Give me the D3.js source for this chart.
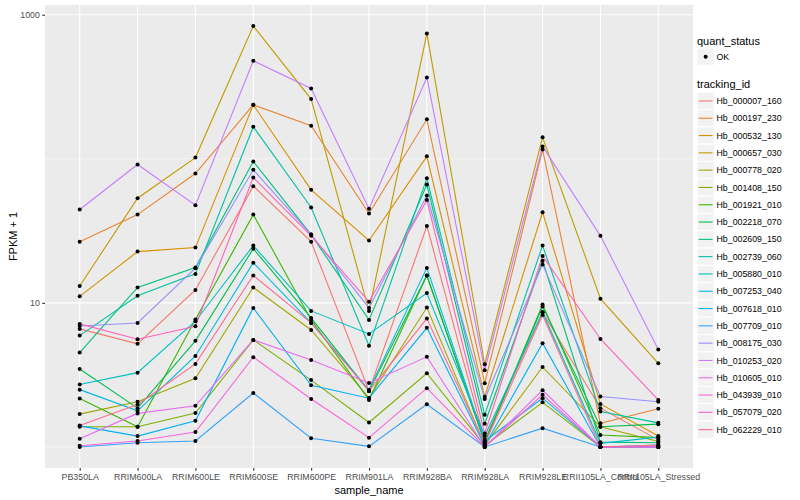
<!DOCTYPE html>
<html>
<head>
<meta charset="utf-8">
<script src="https://cdn.jsdelivr.net/npm/d3@7"></script>
<style>
body { margin:0; background:#ffffff; }
text { font-family:"Liberation Sans", Arial, Helvetica, sans-serif; }
</style>
</head>
<body>
<svg id="chart"></svg>
<script>

//sample names on the x axis
var samples = ["PB350LA","RRIM600LA","RRIM600LE","RRIM600SE","RRIM600PE","RRIM901LA",
               "RRIM928BA","RRIM928LA","RRIM928LE","RRII105LA_Control","RRII105LA_Stressed"];

//tracking ids (legend order)
var trackingIds = ["Hb_000007_160","Hb_000197_230","Hb_000532_130","Hb_000657_030","Hb_000778_020",
                   "Hb_001408_150","Hb_001921_010","Hb_002218_070","Hb_002609_150","Hb_002739_060",
                   "Hb_005880_010","Hb_007253_040","Hb_007618_010","Hb_007709_010","Hb_008175_030",
                   "Hb_010253_020","Hb_010605_010","Hb_043939_010","Hb_057079_020","Hb_062229_010"];

//ggplot default hue colours
var lineColors = ["#F8766D","#EA8331","#D89000","#C09B00","#A3A500","#7CAE00","#39B600","#00BB4E",
                  "#00BF7D","#00C1A3","#00BFC4","#00BAE0","#00B0F6","#35A2FF","#9590FF","#C77CFF",
                  "#E76BF3","#FA62DB","#FF62BC","#FF6C91"];

//FPKM + 1 values, one array per gene, in sample order
var hb000007_160 = [6.6, 5.2, 12.3, 64.6, 26.6, 2.45, 34.2, 1.12, 8.6, 1.86, 1.12];
var hb000197_230 = [26.6, 41.0, 79.1, 237, 170, 41.7, 188, 2.77, 116, 1.46, 1.84];
var hb000532_130 = [11.1, 22.7, 24.2, 237, 60.9, 27.1, 104, 2.23, 42.6, 1.99, 1.19];
var hb000657_030 = [13.1, 53.3, 102, 835, 260, 8.80, 742, 3.75, 141, 10.7, 3.81];
var hb000778_020 = [1.69, 2.06, 3.0, 12.8, 6.49, 2.19, 9.28, 1.03, 3.59, 1.38, 1.09];
var hb001408_150 = [1.38, 1.38, 1.72, 5.53, 2.91, 1.48, 3.25, 1.02, 2.04, 1.0, 1.0];
var hb001921_010 = [2.17, 1.38, 7.66, 41.0, 7.62, 2.12, 15.5, 1.07, 9.73, 1.21, 1.16];
var hb002218_070 = [3.48, 1.86, 5.45, 23.8, 7.87, 2.44, 15.5, 1.08, 9.43, 1.38, 1.44];
var hb002609_150 = [4.52, 12.8, 17.6, 95.8, 29.8, 7.62, 66.3, 1.45, 19.6, 1.08, 1.07];
var hb002739_060 = [5.93, 11.2, 15.9, 167, 45.9, 5.05, 73.4, 1.67, 25.0, 1.76, 1.47];
var hb005880_010 = [2.71, 3.28, 7.46, 25.0, 8.80, 6.09, 11.7, 1.19, 8.62, 1.06, 1.17];
var hb007253_040 = [2.50, 1.78, 4.28, 19.0, 7.26, 2.49, 17.5, 1.10, 2.18, 1.0, 1.03];
var hb007618_010 = [1.40, 1.19, 1.52, 9.23, 2.68, 2.18, 6.71, 1.02, 5.25, 1.0, 1.0];
var hb007709_010 = [1.0, 1.07, 1.10, 2.37, 1.15, 1.01, 1.98, 1.0, 1.35, 1.0, 1.0];
var hb008175_030 = [6.92, 7.26, 17.4, 83.9, 29.8, 9.23, 55.6, 2.15, 18.5, 2.24, 2.06];
var hb010253_020 = [44.5, 91.3, 47.7, 479, 308, 45.0, 367, 3.41, 122, 29.2, 4.74];
var hb010605_010 = [1.14, 1.71, 1.93, 5.53, 4.02, 2.78, 4.22, 1.0, 2.48, 1.0, 1.0];
var hb043939_010 = [1.02, 1.10, 1.27, 4.20, 2.15, 1.16, 2.56, 1.0, 2.30, 1.0, 1.0];
var hb057079_020 = [7.15, 5.60, 6.89, 74.2, 29.2, 10.2, 51.7, 1.24, 21.2, 5.62, 2.12];
var hb062229_010 = [1.41, 1.97, 3.77, 15.5, 7.26, 2.45, 7.78, 1.05, 8.25, 1.0, 1.03];

var allValues = [hb000007_160, hb000197_230, hb000532_130, hb000657_030, hb000778_020,
                 hb001408_150, hb001921_010, hb002218_070, hb002609_150, hb002739_060,
                 hb005880_010, hb007253_040, hb007618_010, hb007709_010, hb008175_030,
                 hb010253_020, hb010605_010, hb043939_010, hb057079_020, hb062229_010];

var yTicks = [10, 1000];
var yMinor = [1, 100];

//the size of the screen
var screen = {width:800, height:500};

//where the grey panel sits
var margins = {top:5, bottom:32, left:45, right:107};

var graph =
{
    width:screen.width-margins.left-margins.right,
    height:screen.height-margins.top-margins.bottom
};

//build the series table
var series = trackingIds.map(function(id, i)
{
    return {
        id:id,
        color:lineColors[i],
        points:allValues[i].map(function(v, j){ return {sample:samples[j], value:v}; })
    };
});

var svg = d3.select("svg#chart")
    .attr("width", screen.width)
    .attr("height", screen.height)
    .style("background-color", "white");

//scales
var xScale = d3.scalePoint()
    .domain(samples)
    .range([0, graph.width])
    .padding(0.6);

var logs = [];
allValues.forEach(function(arr){ arr.forEach(function(v){ logs.push(Math.log10(v)); }); });
var logMin = d3.min(logs), logMax = d3.max(logs);
var pad = (logMax - logMin) * 0.05;

var yScale = d3.scaleLog()
    .domain([Math.pow(10, logMin - pad), Math.pow(10, logMax + pad)])
    .range([graph.height, 0]);

var g = svg.append("g")
    .attr("transform", "translate(" + margins.left + "," + margins.top + ")");

//panel background
g.append("rect")
    .attr("width", graph.width)
    .attr("height", graph.height)
    .attr("fill", "#EBEBEB");

//minor grid
g.selectAll(".minor")
    .data(yMinor)
    .enter()
    .append("line")
    .attr("x1", 0).attr("x2", graph.width)
    .attr("y1", function(d){ return yScale(d); })
    .attr("y2", function(d){ return yScale(d); })
    .attr("stroke", "white")
    .attr("stroke-width", 0.55);

//major grid
g.selectAll(".hmajor")
    .data(yTicks)
    .enter()
    .append("line")
    .attr("x1", 0).attr("x2", graph.width)
    .attr("y1", function(d){ return yScale(d); })
    .attr("y2", function(d){ return yScale(d); })
    .attr("stroke", "white")
    .attr("stroke-width", 1.1);

g.selectAll(".vmajor")
    .data(samples)
    .enter()
    .append("line")
    .attr("y1", 0).attr("y2", graph.height)
    .attr("x1", function(d){ return xScale(d); })
    .attr("x2", function(d){ return xScale(d); })
    .attr("stroke", "white")
    .attr("stroke-width", 1.1);

//lines
var lineGenerator = d3.line()
    .x(function(p){ return xScale(p.sample); })
    .y(function(p){ return yScale(p.value); });

g.selectAll(".gene")
    .data(series)
    .enter()
    .append("path")
    .attr("d", function(s){ return lineGenerator(s.points); })
    .attr("fill", "none")
    .attr("stroke", function(s){ return s.color; })
    .attr("stroke-width", 1.1);

//points
var allPoints = [];
series.forEach(function(s){ s.points.forEach(function(p){ allPoints.push(p); }); });

g.selectAll(".pt")
    .data(allPoints)
    .enter()
    .append("circle")
    .attr("cx", function(p){ return xScale(p.sample); })
    .attr("cy", function(p){ return yScale(p.value); })
    .attr("r", 2)
    .attr("fill", "black");

//axes
var xAxis = d3.axisBottom(xScale).tickSize(2.7).tickPadding(3);
var yAxis = d3.axisLeft(yScale).tickValues(yTicks).tickFormat(d3.format("d")).tickSize(2.7).tickPadding(2.5);

var xg = g.append("g")
    .attr("transform", "translate(0," + graph.height + ")")
    .call(xAxis);
var yg = g.append("g").call(yAxis);

[xg, yg].forEach(function(a)
{
    a.select(".domain").remove();
    a.selectAll(".tick line").attr("stroke", "#333333").attr("stroke-width", 1.1);
    a.selectAll(".tick text")
        .attr("fill", "#4D4D4D")
        .style("font-size", "8.8px")
        .style("font-family", "'Liberation Sans', Arial, sans-serif");
});

//axis titles
svg.append("text")
    .text("sample_name")
    .attr("text-anchor", "middle")
    .attr("x", margins.left + graph.width / 2)
    .attr("y", 494)
    .style("font-size", "11px")
    .attr("fill", "black");

svg.append("g")
    .attr("transform", "translate(17," + (margins.top + graph.height / 2) + ")")
    .append("text")
    .text("FPKM + 1")
    .attr("text-anchor", "middle")
    .attr("transform", "rotate(-90)")
    .style("font-size", "11px")
    .attr("fill", "black");

//legends
var legend = svg.append("g").attr("transform", "translate(697,0)");
var keySize = 17.3;

legend.append("text")
    .text("quant_status")
    .attr("x", 0).attr("y", 44.5)
    .style("font-size", "11px");

legend.append("rect")
    .attr("x", 0).attr("y", 48)
    .attr("width", keySize).attr("height", keySize)
    .attr("fill", "#F2F2F2").attr("stroke", "white");
legend.append("circle")
    .attr("cx", keySize / 2).attr("cy", 48 + keySize / 2)
    .attr("r", 2).attr("fill", "black");
legend.append("text")
    .text("OK")
    .attr("x", 19.5).attr("y", 48 + keySize / 2 + 3.1)
    .style("font-size", "8.8px");

legend.append("text")
    .text("tracking_id")
    .attr("x", 0).attr("y", 88)
    .style("font-size", "11px");

var keys = legend.selectAll(".key")
    .data(series)
    .enter()
    .append("g")
    .attr("transform", function(s, i){ return "translate(0," + (92.3 + i * keySize) + ")"; });

keys.append("rect")
    .attr("width", keySize).attr("height", keySize)
    .attr("fill", "#F2F2F2").attr("stroke", "white");
keys.append("line")
    .attr("x1", 1.7).attr("x2", keySize - 1.7)
    .attr("y1", keySize / 2).attr("y2", keySize / 2)
    .attr("stroke", function(s){ return s.color; })
    .attr("stroke-width", 1.1);
keys.append("text")
    .text(function(s){ return s.id; })
    .attr("x", 19.5).attr("y", keySize / 2 + 3.1)
    .style("font-size", "8.8px");

</script>
</body>
</html>
